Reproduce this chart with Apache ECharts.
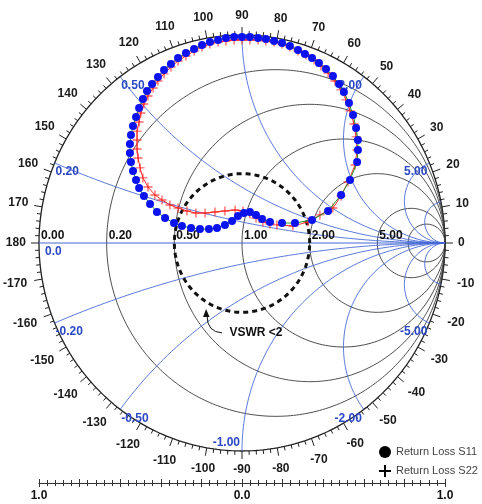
<!DOCTYPE html>
<html><head><meta charset="utf-8">
<script src="https://cdn.jsdelivr.net/npm/echarts@6/dist/echarts.min.js"></script>
<style>html,body{margin:0;padding:0;background:#fff}#c{width:482px;height:504px}</style>
</head><body><div id="c"></div>
<script>
const s11Re = [0.197,0.261,0.345,0.424,0.488,0.532,0.567,0.571,0.571,0.562,0.547,0.527,0.502,0.478,0.448,0.414,0.379,0.345,0.310,0.276,0.236,0.197,0.158,0.118,0.079,0.039,0.000,-0.039,-0.079,-0.118,-0.158,-0.197,-0.236,-0.276,-0.315,-0.350,-0.384,-0.414,-0.443,-0.468,-0.488,-0.507,-0.522,-0.537,-0.547,-0.552,-0.552,-0.547,-0.537,-0.522,-0.507,-0.483,-0.453,-0.419,-0.379,-0.335,-0.296,-0.251,-0.207,-0.163,-0.123,-0.084,-0.049,-0.020,0.010,0.039,0.069,0.099,0.138];
const s11Im = [0.096,0.096,0.111,0.154,0.231,0.303,0.389,0.447,0.495,0.553,0.615,0.673,0.726,0.764,0.803,0.837,0.865,0.889,0.909,0.928,0.947,0.962,0.971,0.981,0.986,0.990,0.990,0.990,0.986,0.976,0.966,0.952,0.933,0.913,0.889,0.861,0.832,0.798,0.764,0.731,0.692,0.649,0.606,0.563,0.519,0.476,0.433,0.389,0.346,0.303,0.264,0.226,0.188,0.149,0.120,0.096,0.082,0.072,0.067,0.067,0.072,0.087,0.106,0.130,0.144,0.149,0.135,0.115,0.101];
const s22Re = [0.172,0.251,0.325,0.384,0.448,0.488,0.522,0.557,0.567,0.562,0.552,0.532,0.512,0.488,0.458,0.424,0.389,0.355,0.315,0.276,0.236,0.197,0.158,0.118,0.079,0.039,0.000,-0.039,-0.079,-0.118,-0.158,-0.197,-0.236,-0.276,-0.315,-0.350,-0.384,-0.414,-0.438,-0.463,-0.483,-0.498,-0.507,-0.517,-0.517,-0.517,-0.512,-0.502,-0.488,-0.463,-0.429,-0.394,-0.355,-0.315,-0.271,-0.227,-0.182,-0.133,-0.084,-0.034,0.005,0.039,0.069,0.103,0.138];
const s22Im = [0.087,0.082,0.101,0.135,0.168,0.226,0.293,0.375,0.447,0.510,0.572,0.635,0.688,0.736,0.779,0.817,0.851,0.880,0.904,0.923,0.942,0.957,0.966,0.971,0.976,0.976,0.976,0.976,0.971,0.966,0.957,0.942,0.923,0.899,0.875,0.846,0.813,0.779,0.745,0.707,0.668,0.625,0.582,0.538,0.495,0.452,0.409,0.361,0.313,0.269,0.231,0.207,0.183,0.168,0.154,0.144,0.144,0.149,0.154,0.159,0.154,0.139,0.120,0.101,0.091];

// ---- Chart furniture values ----
const resistanceCircles = [0, 0.2, 0.5, 1, 2, 5, 10];
const resistanceLabels = [0, 0.2, 0.5, 1, 2, 5];
const reactanceArcs = [0.2, 0.5, 1, 2, 5, 10];
const reactanceLabels = [0.2, 0.5, 2, 5, -0.2, -0.5, -1, -2, -5];
const angleLabels = [-170,-160,-150,-140,-130,-120,-110,-100,-90,-80,-70,-60,-50,-40,-30,-20,-10,0,10,20,30,40,50,60,70,80,90,100,110,120,130,140,150,160,170,180];
const bottomScaleLabels = ['1.0', '0.0', '1.0'];
const vswrLimit = 2;
const vswrText = 'VSWR <2';
const legendNames = ['Return Loss S11', 'Return Loss S22'];

const FONT = '"Liberation Sans", Arial, sans-serif';
const BLUE = '#4568d6';
const BLUE_TXT = '#2a48c4';
const GREY = '#3a3a3a';
const YMAX = 240 / 208;

function rCircle(r) {
  const c = r / (1 + r), rho = 1 / (1 + r), pts = [];
  for (let i = 0; i <= 360; i++) { const t = i * Math.PI / 180; pts.push([c + rho * Math.cos(t), rho * Math.sin(t)]); }
  return pts;
}
function xArc(X) {
  const pts = [];
  for (let i = 0; i < 400; i++) {
    const r = Math.tan(i / 400 * Math.PI / 2);
    const D = (r + 1) * (r + 1) + X * X;
    pts.push([(r * r + X * X - 1) / D, 2 * X / D]);
  }
  pts.push([1, 0]);
  return pts;
}
function lineSeries(data, color, width, z, type) {
  return { type: 'line', data, showSymbol: false, symbol: 'none', clip: false, silent: true, z: z || 1,
    lineStyle: { color, width, type: type || 'solid' }, animation: false };
}

const series = [];
resistanceCircles.forEach(r => series.push(lineSeries(rCircle(r), r === 0 ? '#222' : GREY, r === 0 ? 1.3 : 0.9, 1)));
reactanceArcs.forEach(x => { series.push(lineSeries(xArc(x), BLUE, 0.9, 1)); series.push(lineSeries(xArc(-x), BLUE, 0.9, 1)); });
series.push(lineSeries([[-1, 0], [1, 0]], BLUE, 1, 1));

// VSWR circle
const rhoV = (vswrLimit - 1) / (vswrLimit + 1);
const vsw = [];
for (let i = 0; i <= 360; i += 2) { const t = i * Math.PI / 180; vsw.push([rhoV * Math.cos(t), rhoV * Math.sin(t)]); }
series.push(lineSeries(vsw, '#111', 3, 3, [5, 4]));

// Angle ticks ring
const tickData = [];
for (let a = -178; a <= 180; a += 2) { const t = a * Math.PI / 180; tickData.push([Math.cos(t), Math.sin(t), a]); }
series.push({
  type: 'custom', silent: true, z: 2, animation: false, data: tickData,
  renderItem(params, api) {
    const c = api.value(0), s = api.value(1), a = api.value(2);
    const p = api.coord([c, s]);
    const major = a % 10 === 0;
    const len = major ? 8 : 4;
    const ch = [{ type: 'line', shape: { x1: p[0], y1: p[1], x2: p[0] + c * len, y2: p[1] - s * len }, style: { stroke: '#222', lineWidth: 1 } }];
    if (major && angleLabels.indexOf(a) >= 0) {
      const txt = String(a);
      const hw = txt.length * 3.4;
      const off = 13 + hw * Math.abs(c) + 6 * Math.abs(s);
      ch.push({ type: 'text', x: p[0] + c * off, y: p[1] - s * off,
        style: { text: txt, font: 'bold 12px ' + FONT, fill: '#1a1a1a', align: 'center', verticalAlign: 'middle' } });
    }
    return { type: 'group', children: ch };
  }
});

// Text labels
const labelSpecs = [];
resistanceLabels.forEach(r => labelSpecs.push({ p: [(r - 1) / (r + 1), 0], text: r.toFixed(2), color: '#111', align: 'left', va: 'bottom', dx: 2, dy: -1 }));
labelSpecs.push({ p: [-1, 0], text: '0.0', color: BLUE_TXT, align: 'left', va: 'top', dx: 6, dy: 3 });
reactanceLabels.forEach(x => {
  const g = [(x * x - 1) / (x * x + 1), 2 * x / (x * x + 1)];
  const text = (x < 0 ? '-' : '') + Math.abs(x).toFixed(2);
  let align = g[0] < -0.01 ? 'left' : 'right';
  let dx = g[0] < -0.01 ? 1 : -2;
  let dy = 9;
  if (Math.abs(g[0]) < 0.01) { dy = x < 0 ? -8 : 8; }
  labelSpecs.push({ p: g, text, color: BLUE_TXT, align, va: 'middle', dx, dy });
});
labelSpecs.push({ p: [0.069, -0.433], text: vswrText, color: '#111', align: 'center', va: 'middle', dx: 0, dy: 0 });
series.push({
  type: 'custom', silent: true, z: 2, animation: false,
  data: labelSpecs.map(l => [l.p[0], l.p[1]]),
  renderItem(params, api) {
    const l = labelSpecs[params.dataIndex];
    const p = api.coord([api.value(0), api.value(1)]);
    return { type: 'text', x: p[0] + l.dx, y: p[1] + l.dy,
      style: { text: l.text, font: 'bold 12px ' + FONT, fill: l.color, align: l.align, verticalAlign: l.va } };
  }
});
// VSWR arrow
series.push({
  type: 'custom', silent: true, z: 3, animation: false,
  data: [[-0.177, -0.317]],
  renderItem(params, api) {
    const t = api.coord([api.value(0), api.value(1)]);
    return { type: 'group', children: [
      { type: 'bezierCurve', shape: { x1: t[0] + 16, y1: t[1] + 24, x2: t[0] + 1, y2: t[1] + 7, cpx1: t[0] + 1, cpy1: t[1] + 23 },
        style: { stroke: '#111', lineWidth: 1, fill: null } },
      { type: 'polygon', shape: { points: [[t[0], t[1]], [t[0] - 3, t[1] + 8], [t[0] + 3.5, t[1] + 8]] }, style: { fill: '#111' } }
    ] };
  }
});

// Data series
const plusPath = 'path://M4.5,0H5.5V10H4.5Z M0,4.5H10V5.5H0Z';
series.push({
  name: legendNames[0], type: 'line', data: s11Re.map((v, i) => [v, s11Im[i]]), clip: false, z: 10,
  symbol: 'circle', symbolSize: 8, showAllSymbol: true, animation: false,
  itemStyle: { color: '#0a12ee' }, lineStyle: { color: '#1f9a2a', width: 1 }
});
series.push({
  name: legendNames[1], type: 'line', data: s22Re.map((v, i) => [v, s22Im[i]]), clip: false, z: 9,
  symbol: plusPath, symbolSize: 9, showAllSymbol: true, animation: false,
  itemStyle: { color: '#ff1a1a' }, lineStyle: { color: '#ff3030', width: 1 }
});

const chart = echarts.init(document.getElementById('c'), null, { renderer: 'canvas' });
chart.setOption({
  animation: false,
  backgroundColor: '#fff',
  grid: { left: 39, right: 37, top: 3, bottom: 21 },
  xAxis: [
    { type: 'value', min: -1, max: 1, interval: 0.2, position: 'bottom',
      axisLine: { show: true, onZero: false, lineStyle: { color: '#333', width: 1 } },
      axisTick: { show: true, inside: false, length: 4, lineStyle: { color: '#333' } },
      minorTick: { show: true, splitNumber: 5, length: 3, lineStyle: { color: '#333' } },
      splitLine: { show: false }, minorSplitLine: { show: false },
      axisLabel: { margin: 7, color: '#111', fontWeight: 'bold', fontSize: 12, fontFamily: FONT, showMinLabel: true, showMaxLabel: true,
        formatter: v => { const k = Math.round(v * 10) / 10; if (k === -1) return bottomScaleLabels[0]; if (k === 0) return bottomScaleLabels[1]; if (k === 1) return bottomScaleLabels[2]; return ''; } } },
    { type: 'value', min: -1, max: 1, interval: 0.2, position: 'bottom',
      axisLine: { show: false, onZero: false },
      axisTick: { show: true, inside: true, length: 4, lineStyle: { color: '#333' } },
      minorTick: { show: true, splitNumber: 5, length: 3, lineStyle: { color: '#333' } },
      splitLine: { show: false }, axisLabel: { show: false } }
  ],
  yAxis: { type: 'value', min: -YMAX, max: YMAX, show: false, splitLine: { show: false } },
  legend: {
    orient: 'vertical', left: 374, top: 441, itemGap: 7, itemWidth: 12, itemHeight: 12, selectedMode: false,
    itemStyle: { color: '#000', borderWidth: 0 },
    textStyle: { color: '#444', fontSize: 11, fontFamily: FONT },
    data: [{ name: legendNames[0], icon: 'circle' }, { name: legendNames[1], icon: 'path://M5,0H7V12H5Z M0,5H12V7H0Z' }]
  },
  series
});
</script></body></html>
